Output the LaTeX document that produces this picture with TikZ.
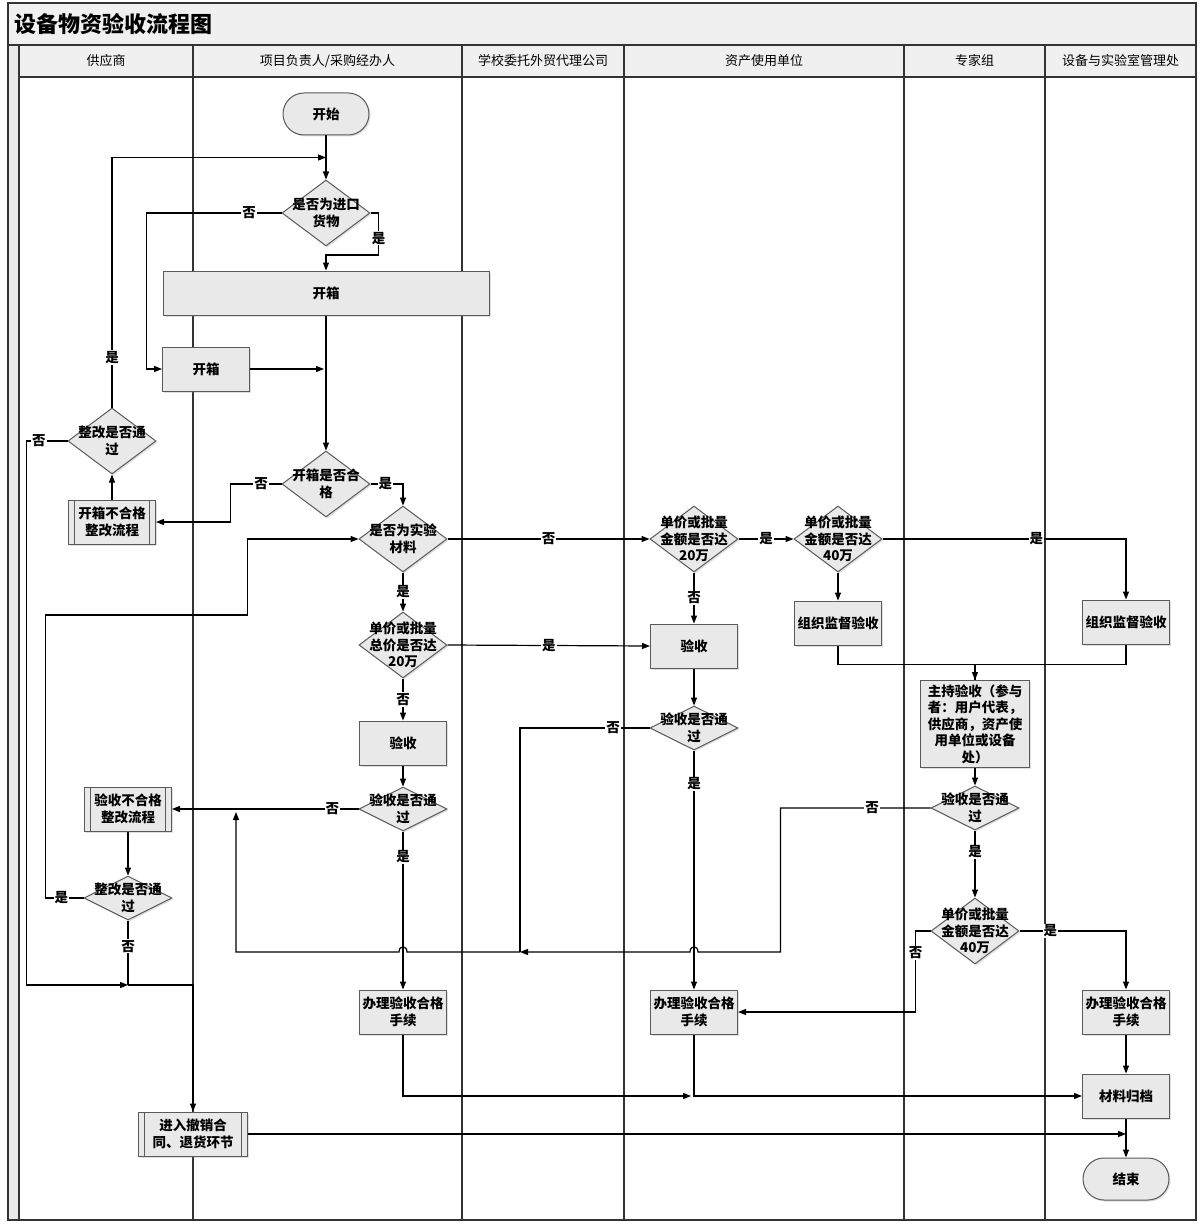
\documentclass[tikz,border=0pt]{standalone}
\usepackage{fontspec}
\setmainfont{Noto Sans CJK SC}
\usetikzlibrary{shapes.geometric,arrows.meta,shadows,calc}

\definecolor{boxfill}{HTML}{E9E9E9}
\definecolor{boxline}{HTML}{5A5A5A}
\definecolor{bandfill}{HTML}{F0F0F0}
\definecolor{laneline}{HTML}{333333}

\newcommand\txt{\fontsize{13.5}{16.5}\selectfont\bfseries}
\newcommand\hdr{\fontsize{13}{15}\selectfont}

\begin{document}
\begin{tikzpicture}[x=1pt, y=-1pt,
	lane/.style={draw=laneline, line width=1.3pt},
	band/.style={lane, fill=bandfill},
	box/.style={rectangle, draw=boxline, fill=boxfill, line width=1pt, minimum width=87pt, minimum height=44pt,
		inner sep=1pt, align=center, font=\txt, drop shadow={shadow xshift=1.5pt, shadow yshift=-1.5pt, opacity=0.25}},
	term/.style={box, rounded corners=21pt, minimum width=86pt, minimum height=42pt},
	subproc/.style={box, path picture={
		\draw[boxline, line width=1pt] ([xshift=6pt]path picture bounding box.north west) -- ([xshift=6pt]path picture bounding box.south west)
			([xshift=-6pt]path picture bounding box.north east) -- ([xshift=-6pt]path picture bounding box.south east);}},
	decision/.style={diamond, draw=boxline, fill=boxfill, line width=1pt, minimum width=88pt, minimum height=66pt,
		inner sep=0pt, drop shadow={shadow xshift=1.5pt, shadow yshift=-1.5pt, opacity=0.25}},
	flat/.style={decision, minimum height=44pt},
	every label/.style={align=center, font=\txt, inner sep=0pt},
	line/.style={black, line width=1.2pt},
	arr/.style={line, -{Triangle[length=8pt, width=6pt]}},
	yn/.style={fill=white, inner sep=1pt, font=\txt}]
	\useasboundingbox (0,0) rectangle (1200,1225);
	\fill[white] (0,0) rectangle (1200,1225);

	% Pool
	\draw[band] (8,3) rectangle (1196,45);
	\node[anchor=west, font=\fontsize{22}{26}\selectfont\bfseries] (title) at (11,24) {设备物资验收流程图};
	\draw[lane, fill=boxfill] (8,45) rectangle (19,1220);
	\draw[lane] (19,45) rectangle (1196,1220);

	% Lanes
	\foreach \a/\b/\t [count=\i] in {19/193/供应商, 193/462/{项目负责人/采购经办人}, 462/624/学校委托外贸代理公司,
			624/904/资产使用单位, 904/1045/专家组, 1045/1196/设备与实验室管理处}{
		\draw[band] (\a,45) rectangle (\b,77);
		\draw[lane] (\b,77) -- (\b,1220);
		\node[font=\hdr] (h\i) at ({(\a+\b)/2},61) {\t};
	}

	% Project leader
	\node[term] (start) at (326,114) {开始};
	\node[decision, label={center:是否为进口\\货物}] (d1) at (326,213) {};
	\node[box, minimum width=326pt] (open1) at (326,293) {开箱};
	\node[box] (open2) at (206,369) {开箱};
	\node[decision, label={center:开箱是否合\\格}] (d2) at (326,484) {};
	\node[decision, label={center:是否为实验\\材料}] (d3) at (403,539) {};
	\node[decision, label={center:单价或批量\\总价是否达\\20万}] (d4) at (403,645) {};
	\node[box] (acc1) at (403,743) {验收};
	\node[flat, label={center:验收是否通\\过}] (d5) at (403,809) {};
	\node[box] (ok1) at (403,1012) {办理验收合格\\手续};

	% Supplier
	\node[decision, label={center:整改是否通\\过}] (d6) at (112,441) {};
	\node[subproc] (fail1) at (112,522) {开箱不合格\\整改流程};
	\node[subproc] (fail2) at (128,809) {验收不合格\\整改流程};
	\node[flat, label={center:整改是否通\\过}] (d7) at (128,898) {};
	\node[subproc, minimum width=109pt] (back) at (193,1134) {进入撤销合\\同、退货环节};

	% Asset unit
	\node[decision, label={center:单价或批量\\金额是否达\\20万}] (d8) at (694,539) {};
	\node[box] (acc2) at (694,646) {验收};
	\node[flat, label={center:验收是否通\\过}] (d9) at (694,728) {};
	\node[box] (ok2) at (694,1012) {办理验收合格\\手续};
	\node[decision, label={center:单价或批量\\金额是否达\\40万}] (d10) at (838,539) {};
	\node[box] (sup1) at (838,623) {组织监督验收};

	% Expert group
	\node[box, minimum width=109pt, minimum height=87pt] (host) at (975,724)
		{主持验收（参与\\者：用户代表，\\供应商，资产使\\用单位或设备\\处）};
	\node[flat, label={center:验收是否通\\过}] (d11) at (975,808) {};
	\node[decision, label={center:单价或批量\\金额是否达\\40万}] (d12) at (975,931) {};

	% Equipment office
	\node[box] (sup2) at (1126,622) {组织监督验收};
	\node[box] (ok3) at (1126,1012) {办理验收合格\\手续};
	\node[box] (arch) at (1126,1096) {材料归档};
	\node[term] (end) at (1126,1179) {结束};

	% Joints
	\coordinate (j1) at ($(start.south)!0.5!(d1.north)$);
	\coordinate (j2) at (128,985);
	\coordinate (j3) at (520,952);
	\coordinate (j4) at (236,812);
	\coordinate (h1) at (d5.south |- j3);
	\coordinate (h2) at (d9.south |- j3);

	% Unpacking
	\draw[arr] (start) -- (d1);
	\draw[arr] (d6.north) |- node[yn, pos=0.1] (y1) {是} (j1);
	\draw[arr] (d1.west) -- node[yn, pos=0.24] (n1) {否} ++(-135,0) |- (open2.west);
	\draw[arr] (d1.east) -- ++(8,0) -- node[yn, pos=0.6] (y2) {是} ++(0,42) -| (open1.north);
	\draw[arr] (open1) -- (d2);
	\draw[arr] (open2.east) -- ([xshift=-2pt]open2.east -| d2.north);
	\draw[arr] (d2.west) -- node[yn, pos=0.4] (n2) {否} ++(-51,0) |- (fail1.east);
	\draw[arr] (d2.east) -| node[yn, pos=0.23] (y3) {是} (d3.north);
	\draw[arr] (fail1) -- (d6);
	\draw[arr] (d6.west) -- node[yn, pos=0.7] (n3) {否} ++(-41,0) |- (j2);

	% Acceptance
	\draw[arr] (d3.east) -- node[yn] (n4) {否} (d8.west);
	\draw[arr] (d3.south) -- node[yn] (y4) {是} (d4.north);
	\draw[arr] (d4.east) -- node[yn] (y5) {是} (acc2.west);
	\draw[arr] (d4.south) -- node[yn] (n5) {否} (acc1.north);
	\draw[arr] (acc1) -- (d5);
	\draw[arr] (d5.west) -- node[yn, pos=0.14] (n6) {否} (fail2.east);
	\draw[arr] (d5.south) -- node[yn, pos=0.16] (y6) {是} (ok1.north);
	\draw[arr] (fail2) -- (d7);
	\draw[line] (d7.south) -- node[yn, pos=0.4] (n7) {否} (j2);
	\draw[arr] (j2) -| (back.north);
	\draw[arr] (d7.west) -- node[yn, pos=0.58] (y7) {是} ++(-38,0) -- ++(0,-283) -- ++(202,0) |- (d3.west);

	% Asset unit checks
	\draw[arr] (d8.east) -- node[yn] (y8) {是} (d10.west);
	\draw[arr] (d8.south) -- node[yn] (n8) {否} (acc2.north);
	\draw[arr] (acc2) -- (d9);
	\draw[arr] (d9.south) -- node[yn, pos=0.14] (y9) {是} (ok2.north);
	\draw[line] (d9.west) -| node[yn, pos=0.14] (n9) {否} (j3);
	\draw[arr] (j3) -- ([xshift=4pt]h1) .. controls ([xshift=4pt,yshift=7pt]h1) and ([xshift=-4pt,yshift=7pt]h1)
		.. ([xshift=-4pt]h1) -| (j4);
	\draw[arr] (d10.east) -| node[yn, pos=0.316] (y10) {是} (sup2.north);
	\draw[arr] (d10) -- (sup1);

	% Expert checks
	\draw[arr] (sup1.south) -- ++(0,19) -| (host.north);
	\draw[line] (sup2.south) -- ++(0,20) -| (host.north);
	\draw[arr] (host) -- (d11);
	\draw[arr] (d11.west) -- node[yn, pos=0.39] (n10) {否} ++(-150,0) |- ([xshift=4pt]h2)
		.. controls ([xshift=4pt,yshift=7pt]h2) and ([xshift=-4pt,yshift=7pt]h2) .. ([xshift=-4pt]h2) -- (j3);
	\draw[arr] (d11.south) -- node[yn, pos=0.32] (y11) {是} (d12.north);
	\draw[arr] (d12.east) -| node[yn, pos=0.145] (y12) {是} (ok3.north);
	\draw[arr] (d12.west) -- ++(-15,0) |- node[yn, pos=0.135] (n11) {否} (ok2.east);

	% Filing
	\draw[arr] (ok3) -- (arch);
	\draw[arr] (ok1.south) |- ([xshift=-3pt]ok2.south |- arch.west);
	\draw[arr] (ok2.south) |- (arch.west);
	\draw[arr] (back.east) -- (back.east -| end.north);
	\draw[arr] (arch) -- (end);
\end{tikzpicture}
\end{document}
